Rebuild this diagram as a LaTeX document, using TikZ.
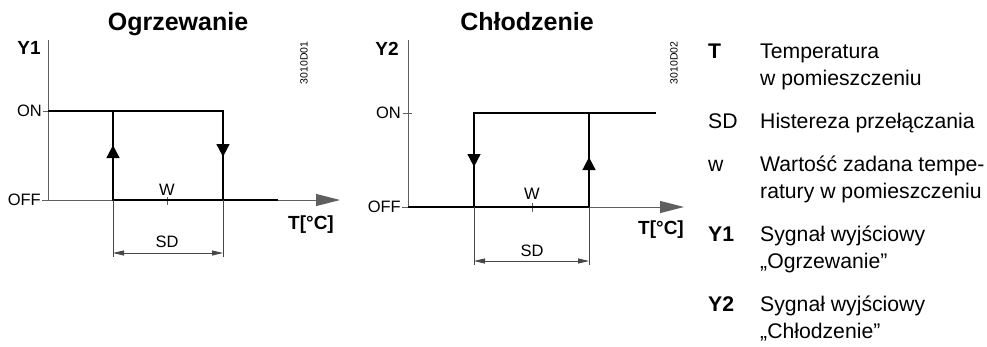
\documentclass[tikz,border=0pt]{standalone}
\usepackage{fontspec}
\setmainfont{Liberation Sans}
\usetikzlibrary{arrows.meta,decorations.markings}
\definecolor{axisgray}{RGB}{95,95,95}
\definecolor{dimgray}{RGB}{70,70,70}
\tikzset{
  axisline/.style={draw=axisgray,line width=1pt},
  axisarrow/.style={axisline,-{Triangle[length=24pt,width=12pt]}},
  heavy/.style={draw=black,line width=2.8pt,line join=miter},
  tickline/.style={draw=axisgray,line width=0.9pt},
  dimline/.style={draw=dimgray,line width=0.8pt},
  dimarrow/.style={dimline,{Triangle[length=11pt,width=5pt]}-{Triangle[length=11pt,width=5pt]}},
  midarrow/.style={postaction={decorate,decoration={markings,
      mark=at position #1 with {\arrow{Triangle[length=13pt,width=12.5pt]}}}}},
  lbl/.style={inner sep=0pt,font=\fontsize{16.5}{19}\selectfont},
  bigtitle/.style={inner sep=0pt,anchor=base,font=\fontsize{25}{30}\selectfont\bfseries},
  axlbl/.style={inner sep=0pt,font=\fontsize{19}{22}\selectfont\bfseries},
  code/.style={inner sep=0pt,rotate=90,font=\fontsize{10.5}{12}\selectfont},
  keytxt/.style={inner sep=0pt,anchor=base west,font=\fontsize{21.2}{25}\selectfont},
  keybold/.style={keytxt,font=\fontsize{21.2}{25}\selectfont\bfseries}
}
\begin{document}
\begin{tikzpicture}[x=1pt,y=-1pt]
\useasboundingbox (0,0) rectangle (987,346);

% ---------- Left: Ogrzewanie ----------
\coordinate (L0) at (48,200);
\coordinate (Ltop) at (48,40);
\coordinate (Lend) at (340,200);
\coordinate (LonA) at (48,111);
\coordinate (LonB) at (223,111);
\coordinate (LoffB) at (223,200);
\coordinate (LoffA) at (113,200);
\coordinate (LupA) at (113,111);
\coordinate (LoffE) at (278,200);
\coordinate (LdA) at (113,257);
\coordinate (LdB) at (223,257);
\coordinate (LsA) at (113,253);
\coordinate (LsB) at (223,253);

\draw[axisline] (Ltop) -- (L0);
\draw[axisarrow] (L0) -- (Lend);
\draw[tickline] (43,111) -- (LonA);
\draw[tickline] (42,200) -- (L0);
\draw[tickline] (167,197) -- (167,205);
\draw[heavy,midarrow=221pt] (LonA) -- (LonB) -- (LoffB);
\draw[heavy,midarrow=220pt] (LoffE) -- (LoffA) -- (LupA);
\draw[dimline] (LoffA) -- (LdA);
\draw[dimline] (LoffB) -- (LdB);
\draw[dimarrow] (LsA) -- (LsB);

\node[bigtitle] (t1) at (178,30) {Ogrzewanie};
\node[axlbl,anchor=base] (y1) at (29,54) {Y1};
\node[lbl,anchor=east] (on1) at (42,111) {ON};
\node[lbl,anchor=east] (off1) at (41,200) {OFF};
\node[lbl,anchor=base] (w1) at (167,195) {W};
\node[lbl,anchor=base] (sd1) at (167,247) {SD};
\node[axlbl] (tc1) at (311,225) {T[°C]};
\node[code] (c1) at (304,63) {3010D01};

% ---------- Right: Chłodzenie ----------
\coordinate (R0) at (408,207);
\coordinate (Rtop) at (408,40);
\coordinate (Rend) at (684,207);
\coordinate (RonE) at (656,113);
\coordinate (RonA) at (474,113);
\coordinate (RoffA) at (474,207);
\coordinate (RoffB) at (589,207);
\coordinate (RupB) at (589,113);
\coordinate (RdA) at (474,265);
\coordinate (RdB) at (589,265);
\coordinate (RsA) at (474,261);
\coordinate (RsB) at (589,261);

\draw[axisline] (Rtop) -- (R0);
\draw[axisarrow] (R0) -- (Rend);
\draw[tickline] (403,113) -- (412,113);
\draw[tickline] (402,207) -- (R0);
\draw[tickline] (532,203) -- (532,212);
\draw[heavy,midarrow=236pt] (RonE) -- (RonA) -- (RoffA);
\draw[heavy,midarrow=231pt] (R0) -- (RoffB) -- (RupB);
\draw[dimline] (RoffA) -- (RdA);
\draw[dimline] (RoffB) -- (RdB);
\draw[dimarrow] (RsA) -- (RsB);

\node[bigtitle] (t2) at (527,30) {Chłodzenie};
\node[axlbl,anchor=base] (y2) at (387,55) {Y2};
\node[lbl,anchor=east] (on2) at (401,113) {ON};
\node[lbl,anchor=east] (off2) at (401,207) {OFF};
\node[lbl,anchor=base] (w2) at (532,199) {W};
\node[lbl,anchor=base] (sd2) at (532,256) {SD};
\node[axlbl] (tc2) at (661,230) {T[°C]};
\node[code] (c2) at (674,63) {3010D02};

% ---------- Legend ----------
\node[keybold] (kT) at (708,58) {T};
\node[keytxt] (dT1) at (760,58) {Temperatura};
\node[keytxt] (dT2) at (760,85) {w pomieszczeniu};
\node[keytxt] (kSD) at (708,128) {SD};
\node[keytxt] (dSD) at (760,128) {Histereza przełączania};
\node[keytxt] (kw) at (708,171) {w};
\node[keytxt] (dw1) at (760,171) {Wartość zadana tempe-};
\node[keytxt] (dw2) at (760,198) {ratury w pomieszczeniu};
\node[keybold] (kY1) at (708,241) {Y1};
\node[keytxt] (dY11) at (760,241) {Sygnał wyjściowy};
\node[keytxt] (dY12) at (760,268) {„Ogrzewanie”};
\node[keybold] (kY2) at (708,311) {Y2};
\node[keytxt] (dY21) at (760,311) {Sygnał wyjściowy};
\node[keytxt] (dY22) at (760,338) {„Chłodzenie”};
\end{tikzpicture}
\end{document}
